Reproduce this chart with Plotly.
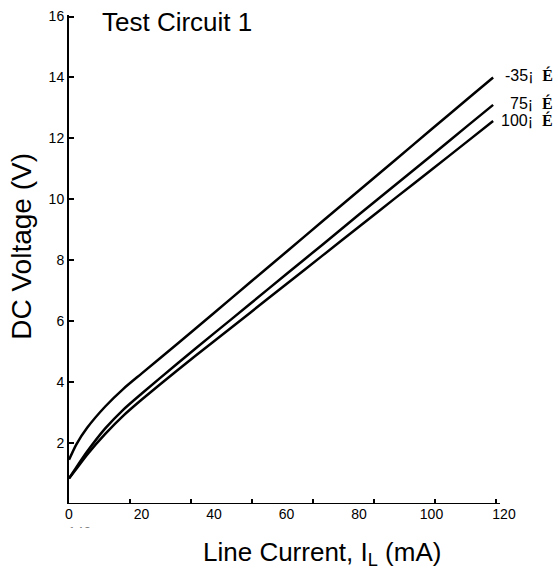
import plotly.graph_objects as go

# Line current (mA)
current = [0, 2, 5, 10, 15, 20, 30, 40, 50, 60, 70, 80, 90, 100, 110, 117]
# DC voltage (V) per temperature
v_m35 = [1.45, 1.95, 2.5, 3.2, 3.78, 4.28, 5.27, 6.27, 7.28, 8.28, 9.29, 10.29, 11.29, 12.3, 13.3, 14.0]
v_75 = [0.84, 1.2, 1.72, 2.48, 3.1, 3.62, 4.62, 5.6, 6.57, 7.55, 8.52, 9.5, 10.47, 11.44, 12.42, 13.1]
v_100 = [0.84, 1.15, 1.62, 2.3, 2.9, 3.42, 4.4, 5.34, 6.28, 7.22, 8.16, 9.1, 10.04, 10.97, 11.91, 12.57]
series_names = ["-35", "75", "100"]
label_y = [14.08, 13.16, 12.6]

x_ticks = [0, 20, 40, 60, 80, 100, 120]
y_ticks = [2, 4, 6, 8, 10, 12, 14, 16]
x_minor = [16.83 * k for k in range(1, 8)]

FONT = "Liberation Sans, Arial, sans-serif"
PW, PH = 435.0, 489.5  # plot area size in px

fig = go.Figure()
for vals in (v_m35, v_75, v_100):
    fig.add_trace(go.Scatter(x=current, y=vals, mode="lines",
                             line=dict(color="black", width=2.5, shape="spline", smoothing=0.6),
                             showlegend=False, hoverinfo="skip"))

# curve end labels
for name, ly in zip(series_names, label_y):
    fig.add_annotation(x=(555 - 69) / PW, y=ly, xref="paper", yref="y",
                       text=name + "¡\u00a0\u00a0<span style='font-family:Liberation Serif;font-weight:bold'>É</span>",
                       showarrow=False, xanchor="right", yanchor="middle",
                       font=dict(family=FONT, size=16, color="black"))

# x axis line (drawn to the axis end)
fig.add_shape(type="line", xref="x", yref="y", x0=0, x1=118.9, y0=0, y1=0,
              line=dict(color="black", width=2))

# title
fig.add_annotation(x=8.55, y=15.82, xref="x", yref="y", text="Test Circuit 1",
                   showarrow=False, xanchor="left", yanchor="middle",
                   font=dict(family=FONT, size=26, color="black"))

# axis titles
fig.add_annotation(x=(322 - 69) / PW, y=(504.5 - 554) / PH, xref="paper", yref="paper",
                   text="Line Current, I<sub>L</sub> (mA)", showarrow=False,
                   xanchor="center", yanchor="middle",
                   font=dict(family=FONT, size=26, color="black"))
fig.add_annotation(x=(22 - 69) / PW, y=(504.5 - 247) / PH, xref="paper", yref="paper",
                   text="DC Voltage (V)", showarrow=False, textangle=-90,
                   xanchor="center", yanchor="middle",
                   font=dict(family=FONT, size=28, color="black"))

# clipped stray label beneath 0
fig.add_annotation(x=(80 - 69) / PW, y=(504.5 - 533) / PH, xref="paper", yref="paper",
                   text="140", showarrow=False, xanchor="center", yanchor="middle",
                   font=dict(family=FONT, size=14, color="black"))
fig.add_annotation(x=(80 - 69) / PW, y=(504.5 - 541) / PH, xref="paper", yref="paper",
                   text="\u00a0", showarrow=False, xanchor="center", yanchor="middle",
                   width=40, height=22, bgcolor="white",
                   font=dict(family=FONT, size=14, color="white"))

fig.update_xaxes(range=[0, 120], tickvals=x_ticks, ticktext=[str(v) for v in x_ticks],
                 ticks="", showline=False, showgrid=False, zeroline=False, automargin=False,
                 tickfont=dict(family=FONT, size=14, color="black"),
                 minor=dict(tickmode="array", tickvals=x_minor, ticks="inside",
                            ticklen=5, tickwidth=1.5, tickcolor="black", showgrid=False))
fig.update_yaxes(range=[0, 16.05], tickvals=y_ticks, ticktext=[str(v) for v in y_ticks],
                 ticks="inside", ticklen=5, tickwidth=1.5, tickcolor="black",
                 showline=True, linecolor="black", linewidth=2,
                 showgrid=False, zeroline=False, automargin=False,
                 tickfont=dict(family=FONT, size=14, color="black"))

fig.update_layout(width=558, height=572, plot_bgcolor="white", paper_bgcolor="white",
                  margin=dict(l=69, r=54, t=15, b=67.5, autoexpand=False), showlegend=False)

fig.write_html("out.html", config={"displayModeBar": False},
               post_script="document.body.style.margin='0px';")
